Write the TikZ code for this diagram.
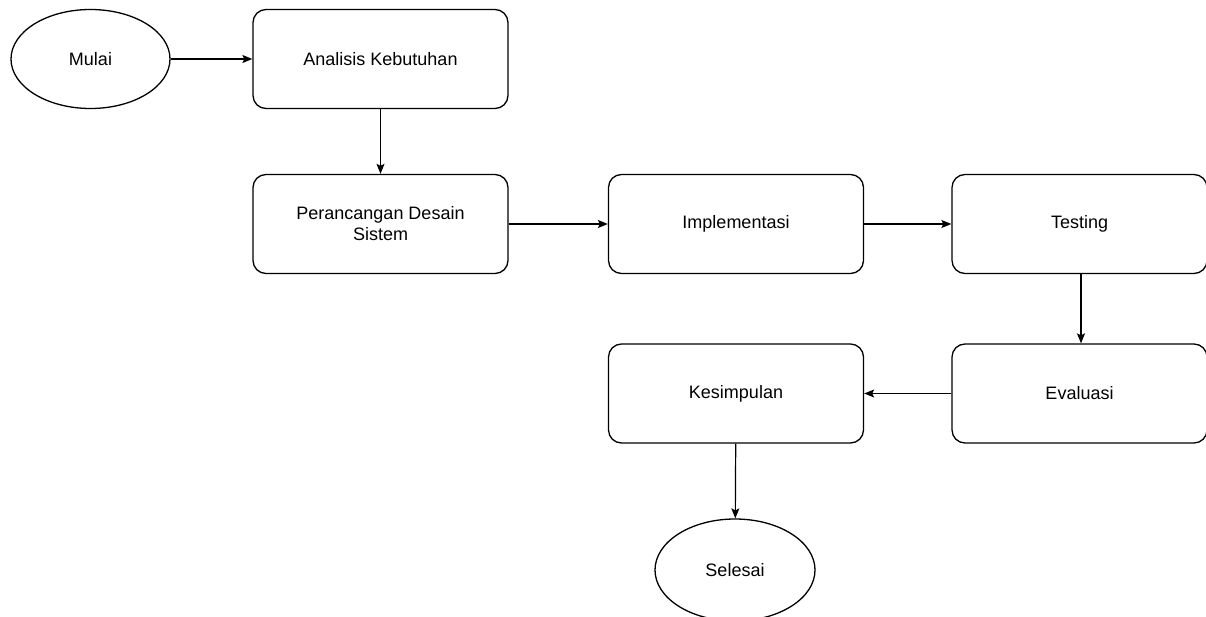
\documentclass[tikz,border=0pt]{standalone}
\usepackage{fontspec}
\setmainfont{Liberation Sans}
\usetikzlibrary{shapes.geometric,arrows.meta}
\begin{document}
\begin{tikzpicture}[x=1pt,y=-1pt,
  every node/.style={font=\fontsize{18}{21}\selectfont, line width=1.3pt, draw, align=center, inner sep=0pt},
  proc/.style={rectangle, rounded corners=13pt, minimum width=255pt, minimum height=99pt},
  term/.style={ellipse, minimum width=159pt, minimum height=99pt},
  conn/.style={line width=1.2pt, -{Stealth[length=10pt,width=8pt,inset=2pt]}}]
\useasboundingbox (0,0) rectangle (1206,617);
\clip (0,0) rectangle (1206,617);
\node[term] (mulai) at (90.5,59) {Mulai};
\node[proc] (analisis) at (380.5,59) {Analisis Kebutuhan};
\node[proc] (rancang) at (380.5,224) {Perancangan Desain\\Sistem};
\node[proc] (impl) at (736,224) {Implementasi};
\node[proc] (test) at (1079.5,224) {Testing};
\node[proc] (eval) at (1079.5,393.5) {Evaluasi};
\node[proc] (kes) at (736,393.5) {Kesimpulan};
\node[term, minimum width=160pt, minimum height=102pt] (selesai) at (735,570) {Selesai};
\draw[conn] (mulai) -- (analisis);
\draw[conn] (analisis) -- (rancang);
\draw[conn] (rancang) -- (impl);
\draw[conn] (impl) -- (test);
\draw[conn] (test.south -| 1081,0) -- (eval.north -| 1081,0);
\draw[conn] (eval) -- (kes);
\draw[conn] (kes) -- (selesai);
\end{tikzpicture}
\end{document}
